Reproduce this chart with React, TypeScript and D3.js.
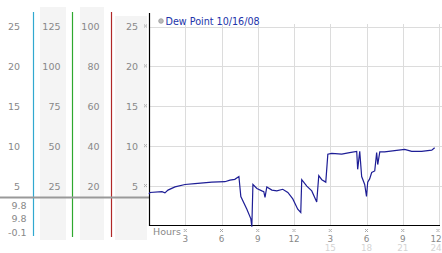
import React from "react";
import * as d3 from "d3";

const hours = [0, 0.08, 1.07, 1.32, 1.57, 2.15, 2.98, 3.8, 5.2, 6.28, 6.7, 7.1, 7.44, 7.6, 8.1, 8.43, 8.51, 8.6, 8.93, 9.34, 9.5, 9.6, 9.75, 10.17, 10.58, 11.07, 11.49, 11.9, 12.31, 12.56, 12.64, 13.06, 13.47, 13.88, 14.05, 14.3, 14.63, 14.8, 15.12, 15.95, 16.6, 17.19, 17.27, 17.44, 17.6, 17.85, 18.0, 18.1, 18.26, 18.43, 18.68, 18.84, 18.93, 19.1, 19.5, 21.16, 21.74, 22.56, 23.4, 23.64];
const dewPoint = [4.0, 4.2, 4.3, 4.15, 4.5, 4.9, 5.2, 5.3, 5.5, 5.55, 5.75, 5.85, 6.2, 3.7, 2.1, 0.9, -0.1, 5.2, 4.7, 4.4, 4.3, 3.6, 4.9, 4.5, 4.4, 4.6, 4.2, 3.4, 2.1, 1.7, 5.8, 5.0, 4.4, 3.0, 6.3, 5.8, 5.5, 9.0, 9.1, 9.0, 9.2, 9.35, 7.1, 9.35, 6.2, 5.2, 3.7, 5.5, 5.9, 6.7, 6.9, 9.2, 7.7, 9.3, 9.3, 9.6, 9.35, 9.35, 9.5, 9.8];

const yTicks = [5, 10, 15, 20, 25];
const col1Labels = ["5", "10", "15", "20", "25"];
const col2Labels = ["25", "50", "75", "100", "125"];
const col3Labels = ["20", "40", "60", "80", "100"];
const col4Labels = ["5", "10", "15", "20", "25"];
const summaryLabels = ["9.8", "9.8", "-0.1"];
const xTickHours = [3, 6, 9, 12, 15, 18, 21, 24];
const xTickLabels = ["3", "6", "9", "12", "3", "6", "9", "12"];
const xTickLabels2 = ["", "", "", "", "15", "18", "21", "24"];
const legendLabel = "Dew Point 10/16/08";
const axisLabel = "Hours";

const FONT = "DejaVu Sans, Verdana, sans-serif";

export default function App() {
  const W = 442, H = 253;
  const x = d3.scaleLinear().domain([0, 24]).range([149, 439]);
  const y = d3.scaleLinear().domain([0, 25]).range([226, 26.5]);
  const line = d3.line<number>().x((_, i) => x(hours[i])).y((d) => y(d));
  const plotL = 149.5, plotB = 225.5, plotR = 440;
  const tickMark = (cx: number, cy: number, key: string) => (
    <g key={key} fill="#aaa">
      <rect x={cx - 1.5} y={cy - 2} width={1} height={1} />
      <rect x={cx + 0.5} y={cy - 2} width={1} height={1} />
      <rect x={cx - 0.5} y={cy - 1} width={1} height={1} />
      <rect x={cx - 1.5} y={cy} width={1} height={1} />
      <rect x={cx + 0.5} y={cy} width={1} height={1} />
    </g>
  );
  const labelX = (h: number) => Math.min(x(h), 436);
  return (
    <svg width={W} height={H} style={{ position: "absolute", left: 0, top: 0, background: "#fff" }} fontFamily={FONT}>
      {/* side panel backgrounds */}
      <rect x={40} y={7} width={26} height={233} fill="#f4f4f4" />
      <rect x={80} y={7} width={24} height={233} fill="#f4f4f4" />
      <rect x={115} y={16} width={32} height={224} fill="#f4f4f4" />
      {/* colored scale lines */}
      <line x1={33.5} x2={33.5} y1={12} y2={236} stroke="#30a8d0" strokeWidth={1.2} />
      <line x1={72.5} x2={72.5} y1={12} y2={237} stroke="#2ea82e" strokeWidth={1.2} />
      <line x1={111.5} x2={111.5} y1={12} y2={237} stroke="#b02828" strokeWidth={1.2} />
      {/* side labels */}
      <g fontSize={9.5} fill="#888" textAnchor="end">
        {yTicks.map((v, i) => (
          <g key={v}>
            <text x={20} y={y(v) + 3.5}>{col1Labels[i]}</text>
            <text x={60.5} y={y(v) + 3.5}>{col2Labels[i]}</text>
            <text x={99.5} y={y(v) + 3.5}>{col3Labels[i]}</text>
            <text x={138} y={y(v) + 3.5}>{col4Labels[i]}</text>
          </g>
        ))}
        {summaryLabels.map((s, i) => (
          <text key={i} x={26.5} y={208.5 + i * 13.5}>{s}</text>
        ))}
      </g>
      {yTicks.map((v) => tickMark(145.5, y(v), "yt" + v))}
      {/* grid */}
      <g stroke="#dcdcdc" strokeWidth={1}>
        {yTicks.map((v) => (
          <line key={v} x1={plotL} x2={plotR + 2} y1={Math.round(y(v)) + 0.5} y2={Math.round(y(v)) + 0.5} />
        ))}
        {xTickHours.map((h) => (
          <line key={h} x1={Math.round(x(h)) + 0.5} x2={Math.round(x(h)) + 0.5} y1={24} y2={plotB} />
        ))}
      </g>
      {/* grey current line across side panels */}
      <line x1={0} x2={plotL} y1={197.5} y2={197.5} stroke="#999" strokeWidth={2} />
      {/* axes */}
      <line x1={plotL} x2={plotL} y1={13} y2={plotB + 0.5} stroke="#000" strokeWidth={1.2} />
      <line x1={plotL} x2={plotR} y1={plotB} y2={plotB} stroke="#000" strokeWidth={1.2} />
      {/* data line */}
      <path d={line(dewPoint) || ""} fill="none" stroke="#1e1e96" strokeWidth={1.2} />
      {/* legend */}
      <circle cx={161} cy={21} r={2.3} fill="#bbb" stroke="#999" strokeWidth={0.8} />
      <text x={165.5} y={24.5} fontSize={9.6} fill="#2233aa">{legendLabel}</text>
      {/* x axis labels */}
      <text x={153} y={235} fontSize={9.5} fill="#888">{axisLabel}</text>
      {xTickHours.map((h) => tickMark(Math.min(x(h), 438), 231, "xt" + h))}
      <g fontSize={8.8} textAnchor="middle">
        {xTickHours.map((h, i) => (
          <text key={h} x={labelX(h)} y={241.5} fill="#888">{xTickLabels[i]}</text>
        ))}
        {xTickHours.map((h, i) => (
          <text key={"b" + h} x={labelX(h)} y={251} fill="#d4d4d4">{xTickLabels2[i]}</text>
        ))}
      </g>
    </svg>
  );
}
